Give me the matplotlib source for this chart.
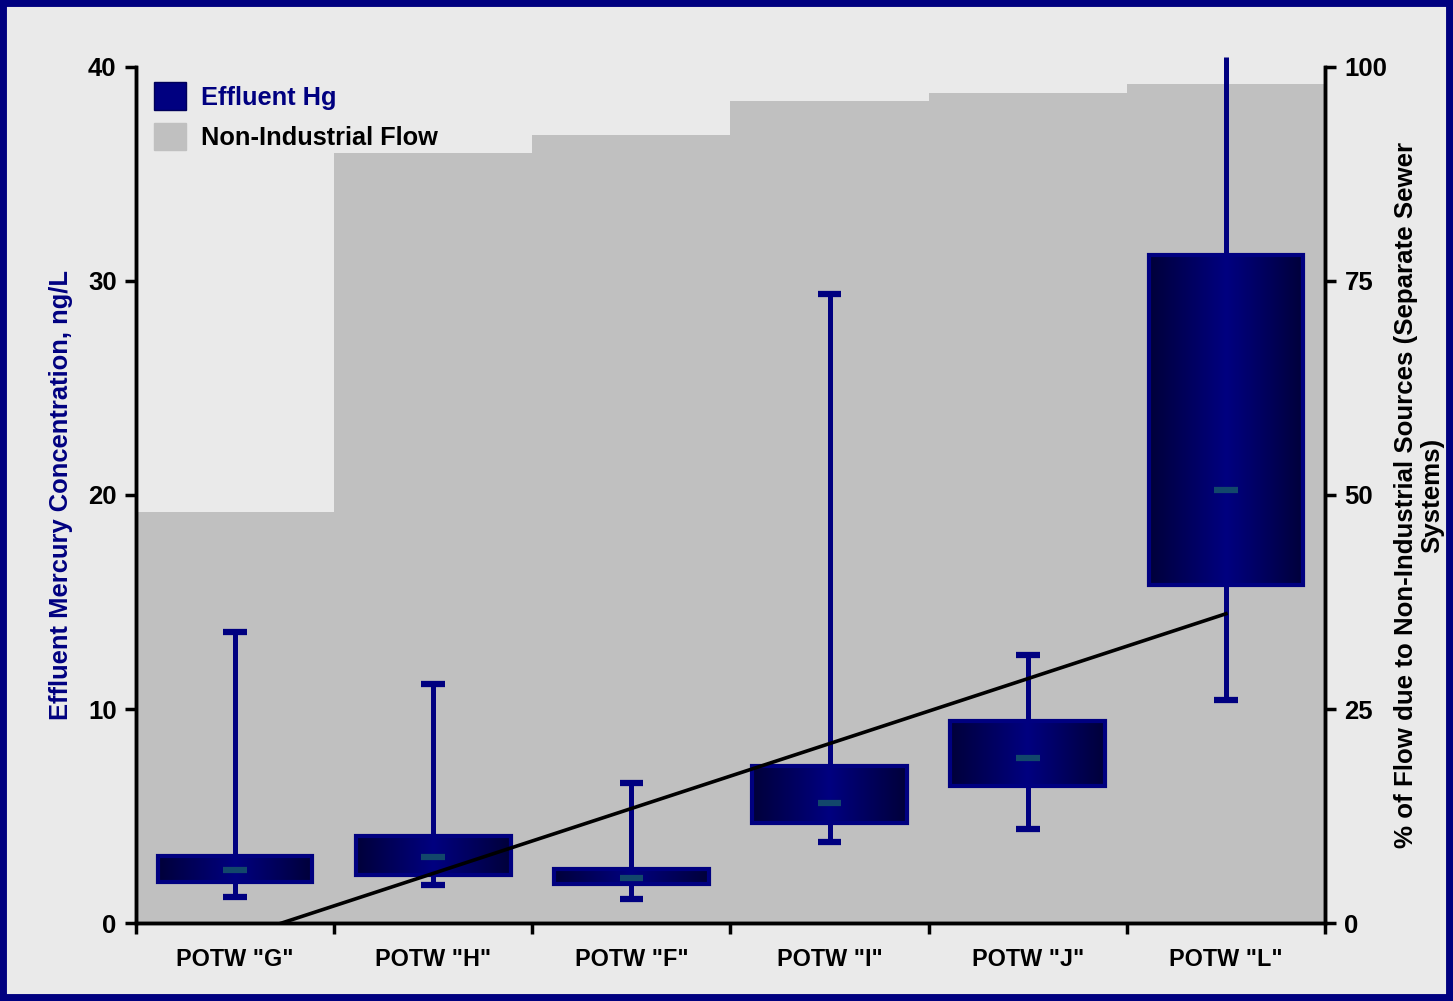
import numpy as np
import matplotlib
matplotlib.use("Agg")
import matplotlib.pyplot as plt
from matplotlib.patches import Rectangle, Patch
from matplotlib.colors import LinearSegmentedColormap

plt.rcParams['font.family'] = ['Liberation Sans', 'DejaVu Sans']
plt.rcParams['font.weight'] = 'bold'
plt.rcParams['axes.labelweight'] = 'bold'

# data
plants = ['POTW "G"', 'POTW "H"', 'POTW "F"', 'POTW "I"', 'POTW "J"', 'POTW "L"']
hg_min = [1.21, 1.78, 1.12, 3.79, 4.39, 10.42]
hg_q1 = [1.92, 2.24, 1.82, 4.67, 6.40, 15.79]
hg_median = [2.48, 3.08, 2.10, 5.61, 7.71, 20.23]
hg_q3 = [3.13, 4.07, 2.52, 7.34, 9.44, 31.21]
hg_max = [13.6, 11.17, 6.54, 29.39, 12.52, 42.0]
flow_pct = [48, 90, 92, 96, 97, 98]

navy = '#000080'
bg = '#EAEAEA'
grey = '#C0C0C0'

fig = plt.figure(figsize=(14.53, 10.01), dpi=100, facecolor=bg)
# navy frame round the whole picture
fig.patches.append(Rectangle((0, 0), 1, 1, transform=fig.transFigure,
                             fill=False, edgecolor=navy, linewidth=10))

ax = fig.add_axes([0.0936, 0.0779, 0.8183, 0.8552])
ax2 = ax.twinx()
ax.set_zorder(ax2.get_zorder() + 1)
ax.patch.set_visible(False)
ax2.set_facecolor(bg)

x = np.arange(len(plants))

# non-industrial flow as a step area on the right axis
ax2.bar(x, flow_pct, width=1.0, color=grey, linewidth=0)
ax2.set_ylim(0, 100)
ax2.set_yticks([0, 25, 50, 75, 100])

# boxes with horizontal gradient
cmap = LinearSegmentedColormap.from_list('box', ['#00003A', navy, '#00003A'])
grad = np.linspace(0, 1, 256).reshape(1, -1)
w = 0.78
top_cut = 40.47  # whisker runs a little past the top of the axis
for i in range(len(plants)):
    ax.plot([x[i], x[i]], [hg_min[i], min(hg_max[i], top_cut)], color=navy,
            lw=3.6, solid_capstyle='butt', zorder=2, clip_on=False)
    ax.plot([x[i] - 0.06, x[i] + 0.06], [hg_min[i], hg_min[i]], color=navy,
            lw=4.5, solid_capstyle='butt', zorder=2)
    ax.plot([x[i] - 0.06, x[i] + 0.06], [hg_max[i], hg_max[i]], color=navy,
            lw=4.5, solid_capstyle='butt', zorder=2)
    ax.imshow(grad, cmap=cmap, aspect='auto', zorder=3,
              extent=(x[i] - w / 2, x[i] + w / 2, hg_q1[i], hg_q3[i]))
    ax.add_patch(Rectangle((x[i] - w / 2, hg_q1[i]), w, hg_q3[i] - hg_q1[i],
                           fill=False, edgecolor=navy, lw=3, zorder=4))
    ax.plot([x[i] - 0.06, x[i] + 0.06], [hg_median[i], hg_median[i]],
            color='#12476B', lw=4.5, solid_capstyle='butt', zorder=5)

# linear trend of the medians
fit = np.polyfit(x, hg_median, 1)
ax.plot(x, np.polyval(fit, x), color='black', lw=2.6, zorder=6)

ax.set_xlim(-0.5, 5.5)
ax.set_ylim(0, 40)
ax.set_yticks([0, 10, 20, 30, 40])
ax.set_xticks(np.arange(-0.5, 6, 1))
ax.set_xticklabels([])
ax.set_xticks(x, minor=True)
ax.set_xticklabels(plants, minor=True)
ax.tick_params(axis='x', which='minor', length=0, pad=18, labelsize=16.8)
ax.tick_params(axis='x', which='major', length=8, width=2.5, direction='out')
ax.tick_params(axis='y', length=8, width=2.5, labelsize=18.5, pad=6)
ax2.tick_params(axis='y', length=8, width=2.5, labelsize=18.5, pad=6)

for a in (ax, ax2):
    a.spines['top'].set_visible(False)
    for s in ('left', 'right', 'bottom'):
        a.spines[s].set_linewidth(2.5)

ax.set_ylabel('Effluent Mercury Concentration, ng/L', color=navy, fontsize=18.4)
ax.yaxis.set_label_coords(-0.053, 0.5)
ax2.set_ylabel('% of Flow due to Non-Industrial Sources (Separate Sewer\nSystems)',
               fontsize=18.6, linespacing=1.12)
ax2.yaxis.set_label_coords(1.058, 0.5)

handles = [Patch(facecolor=navy, edgecolor='#00005A'),
           Patch(facecolor=grey, edgecolor=grey)]
leg = ax.legend(handles, ['Effluent Hg', 'Non-Industrial Flow'],
                loc='upper left', bbox_to_anchor=(-0.004, 1.009), frameon=False,
                fontsize=18.3, handlelength=1.25, handleheight=1.3,
                handletextpad=0.6, labelspacing=0.5)
leg.get_texts()[0].set_color(navy)

fig.savefig('out.png', dpi=100, facecolor=bg)
